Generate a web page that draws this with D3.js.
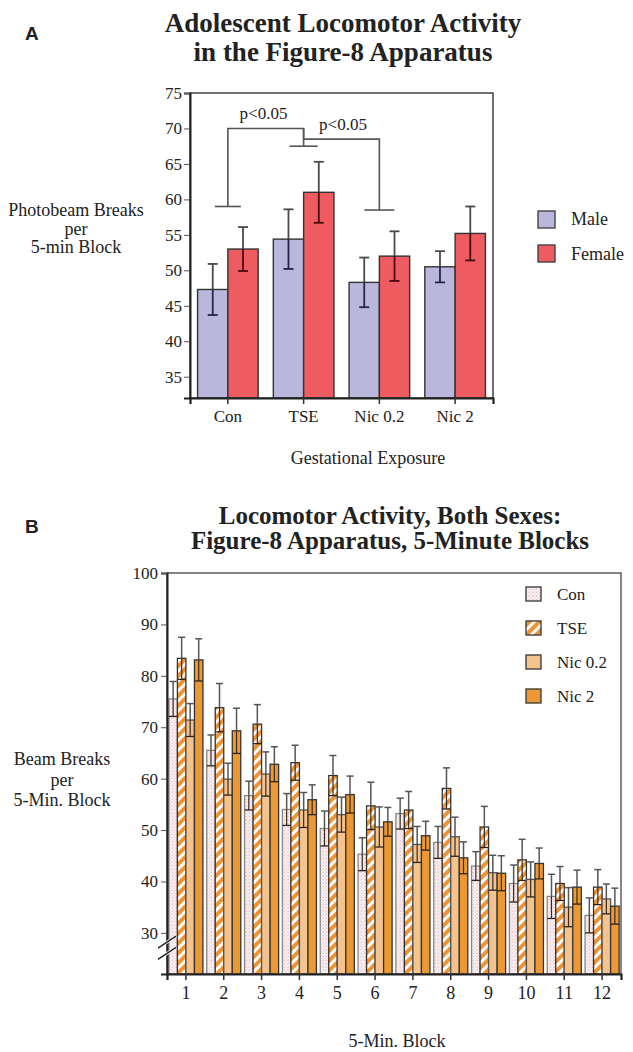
<!DOCTYPE html>
<html><head><meta charset="utf-8">
<script src="https://cdn.jsdelivr.net/npm/d3@7"></script>
<style>body{margin:0;background:#fff}svg{display:block}text{font-family:"Liberation Serif","Times New Roman",serif;fill:#222}</style>
</head><body>
<script>
// ---------- Panel A data ----------
const groupsA = ["Con", "TSE", "Nic 0.2", "Nic 2"];
const sexes = ["Male", "Female"];
const maleMean = [47.3, 54.4, 48.3, 50.5];
const maleSE = [3.6, 4.2, 3.5, 2.2];
const femaleMean = [53.0, 61.0, 52.0, 55.2];
const femaleSE = [3.1, 4.3, 3.5, 3.8];
const yTicksA = [35, 40, 45, 50, 55, 60, 65, 70, 75];
// significance brackets
const bracketFrom = ["Con", "TSE"];
const bracketTo = ["TSE", "Nic 0.2"];
const bracketTop = [70, 68.5];
const bracketLeftFoot = [59, 70];
const bracketRightFoot = [67.5, 58.5];
const bracketLabel = ["p<0.05", "p<0.05"];
const bracketLabelX = [0.47, 0.52];
const bracketLabelY = [71.4, 69.8];

// ---------- Panel B data ----------
const blocks = ["1","2","3","4","5","6","7","8","9","10","11","12"];
const groupsB = ["Con", "TSE", "Nic 0.2", "Nic 2"];
const conMean = [75.5, 65.5, 56.7, 54.0, 50.3, 45.3, 53.2, 47.6, 43.0, 39.6, 37.1, 33.4];
const conSE   = [3.4, 3.0, 2.8, 3.1, 3.4, 3.2, 3.0, 3.1, 2.8, 3.6, 4.3, 3.4];
const tseMean = [83.4, 73.8, 70.6, 63.1, 60.6, 54.7, 53.9, 58.1, 50.6, 44.2, 39.6, 38.9];
const tseSE   = [4.1, 4.7, 3.8, 3.4, 3.9, 4.6, 3.6, 4.0, 4.0, 4.0, 3.3, 3.4];
const nic02Mean = [71.4, 59.9, 60.9, 53.9, 53.0, 50.6, 47.2, 48.7, 41.7, 40.4, 35.0, 36.6];
const nic02SE   = [3.2, 3.1, 4.3, 3.4, 3.4, 3.9, 3.5, 3.8, 3.4, 3.4, 3.8, 2.9];
const nic2Mean = [83.1, 69.3, 62.8, 55.9, 56.9, 51.6, 48.9, 44.6, 41.6, 43.5, 38.9, 35.2];
const nic2SE   = [4.1, 4.4, 3.4, 2.9, 3.6, 2.8, 2.8, 3.1, 3.4, 3.0, 3.3, 3.5];
const yTicksB = [30, 40, 50, 60, 70, 80, 90, 100];

const W = 633, H = 1052;
const svg = d3.select("body").append("svg").attr("width", W).attr("height", H);
const defs = svg.append("defs");

// patterns
const stripe = defs.append("pattern").attr("id", "stripes").attr("patternUnits", "userSpaceOnUse")
  .attr("width", 7).attr("height", 7).attr("patternTransform", "rotate(45)");
stripe.append("rect").attr("width", 7).attr("height", 7).attr("fill", "#fff");
stripe.append("rect").attr("width", 4).attr("height", 7).attr("fill", "#ee9434");
const dots = defs.append("pattern").attr("id", "dots").attr("patternUnits", "userSpaceOnUse")
  .attr("width", 3.5).attr("height", 3.5);
dots.append("rect").attr("width", 3.5).attr("height", 3.5).attr("fill", "#fbf5f5");
dots.append("circle").attr("cx", 1).attr("cy", 1).attr("r", 0.65).attr("fill", "#d88d9b");
dots.append("circle").attr("cx", 2.75).attr("cy", 2.75).attr("r", 0.55).attr("fill", "#e4b2bb");

// ---------- Panel A ----------
const A = {l: 190, r: 493, t: 93, b: 398};
const yA = d3.scaleLinear().domain([32, 75]).range([A.b, A.t]);
const x0A = d3.scaleBand().domain(groupsA).range([A.l, A.r]).paddingInner(0.2).paddingOuter(0.1);
const x1A = d3.scaleBand().domain(sexes).range([0, x0A.bandwidth()]);
const colA = {Male: "#b9b8dc", Female: "#ee5b60"};
const darkA = {Male: "#25254a", Female: "#4a0a0e"};

svg.append("text").attr("x", 25).attr("y", 40).style("font-family", "'Liberation Sans',Arial,sans-serif")
  .style("font-weight", "bold").style("font-size", "19px").text("A");
const titleA = svg.append("text").attr("text-anchor", "middle").style("font-weight", "bold").style("font-size", "27px");
titleA.append("tspan").attr("x", 343).attr("y", 32).text("Adolescent Locomotor Activity");
titleA.append("tspan").attr("x", 343).attr("y", 61).text("in the Figure-8 Apparatus");

const gA = svg.append("g");
const dataA = [];
groupsA.forEach((g, i) => {
  dataA.push({g, s: "Male", m: maleMean[i], se: maleSE[i]});
  dataA.push({g, s: "Female", m: femaleMean[i], se: femaleSE[i]});
});
const barsA = gA.selectAll("g.bar").data(dataA).join("g");
barsA.append("rect")
  .attr("x", d => x0A(d.g) + x1A(d.s)).attr("width", x1A.bandwidth())
  .attr("y", d => yA(d.m)).attr("height", d => A.b - yA(d.m))
  .attr("fill", d => colA[d.s]).attr("stroke", "#333").attr("stroke-width", 1.4);
barsA.each(function(d) {
  const g = d3.select(this);
  const cx = x0A(d.g) + x1A(d.s) + x1A.bandwidth() / 2;
  g.append("line").attr("x1", cx).attr("x2", cx).attr("y1", yA(d.m)).attr("y2", yA(d.m + d.se)).attr("stroke", "#4a4a4a").attr("stroke-width", 1.8);
  g.append("line").attr("x1", cx - 5).attr("x2", cx + 5).attr("y1", yA(d.m + d.se)).attr("y2", yA(d.m + d.se)).attr("stroke", "#4a4a4a").attr("stroke-width", 1.8);
  g.append("line").attr("x1", cx).attr("x2", cx).attr("y1", yA(d.m)).attr("y2", yA(d.m - d.se)).attr("stroke", darkA[d.s]).attr("stroke-width", 1.8);
  g.append("line").attr("x1", cx - 5).attr("x2", cx + 5).attr("y1", yA(d.m - d.se)).attr("y2", yA(d.m - d.se)).attr("stroke", darkA[d.s]).attr("stroke-width", 1.8);
});

gA.append("rect").attr("x", A.l).attr("y", A.t).attr("width", A.r - A.l).attr("height", A.b - A.t)
  .attr("fill", "none").attr("stroke", "#333").attr("stroke-width", 1.4);
const axLA = gA.append("g").attr("transform", `translate(${A.l},0)`)
  .call(d3.axisLeft(yA).tickValues(yTicksA).tickSize(6).tickPadding(2));
axLA.select(".domain").attr("stroke", "#222").attr("stroke-width", 2);
axLA.selectAll("text").style("font-size", "17px").style("font-family", "'Liberation Serif',serif").attr("fill", "#333");
axLA.selectAll(".tick line").attr("stroke", "#555");
const axBA = gA.append("g").attr("transform", `translate(0,${A.b})`)
  .call(d3.axisBottom(x0A).tickSize(6).tickPadding(6));
axBA.select(".domain").attr("stroke", "#222").attr("stroke-width", 2.2);
axBA.selectAll("text").style("font-size", "17px").style("font-family", "'Liberation Serif',serif").attr("fill", "#222");
axBA.selectAll(".tick line").attr("stroke", "#333").attr("stroke-width", 1.5);

// brackets
const bc = g => x0A(g) + x0A.bandwidth() / 2;
const brk = gA.append("g").attr("stroke", "#555").attr("stroke-width", 1.6).attr("fill", "none");
bracketFrom.forEach((f, i) => {
  const xl = bc(f), xr = bc(bracketTo[i]);
  brk.append("path").attr("d", `M${xl},${yA(bracketLeftFoot[i])}V${yA(bracketTop[i])}H${xr}V${yA(bracketRightFoot[i])}`);
  if (i === 0) {
    brk.append("line").attr("x1", xl - 13).attr("x2", xl + 13).attr("y1", yA(bracketLeftFoot[i])).attr("y2", yA(bracketLeftFoot[i]));
    brk.append("line").attr("x1", xr - 14).attr("x2", xr + 14).attr("y1", yA(bracketRightFoot[i])).attr("y2", yA(bracketRightFoot[i]));
  } else {
    brk.append("line").attr("x1", xr - 15).attr("x2", xr + 15).attr("y1", yA(bracketRightFoot[i])).attr("y2", yA(bracketRightFoot[i]));
  }
  gA.append("text").attr("text-anchor", "middle").style("font-size", "17px")
    .attr("x", xl + (xr - xl) * bracketLabelX[i]).attr("y", yA(bracketLabelY[i])).text(bracketLabel[i]);
});

// y label A
const ylA = svg.append("text").attr("text-anchor", "middle").style("font-size", "18px");
["Photobeam Breaks", "per", "5-min Block"].forEach((t, i) => ylA.append("tspan").attr("x", 76).attr("y", 216 + i * 18.5).text(t));
svg.append("text").attr("x", 368).attr("y", 464).attr("text-anchor", "middle").style("font-size", "18px").text("Gestational Exposure");

// legend A
sexes.forEach((s, i) => {
  svg.append("rect").attr("x", 538).attr("y", 211 + i * 34).attr("width", 17).attr("height", 17)
    .attr("fill", colA[s]).attr("stroke", "#444").attr("stroke-width", 1.4);
  svg.append("text").attr("x", 571).attr("y", 225 + i * 35).style("font-size", "18px").text(s);
});

// ---------- Panel B ----------
const B = {l: 167, r: 621, t: 573, b: 974};
const yB = d3.scaleLinear().domain([22, 100]).range([B.b, B.t]);
const x0B = d3.scaleBand().domain(blocks).range([B.l, B.r]).paddingInner(0.1).paddingOuter(0.05);
const x1B = d3.scaleBand().domain(groupsB).range([0, x0B.bandwidth()]);
const fillB = {"Con": "url(#dots)", "TSE": "url(#stripes)", "Nic 0.2": "#f5c48e", "Nic 2": "#ec9834"};
const strokeB = {"Con": "#888", "TSE": "#333", "Nic 0.2": "#555", "Nic 2": "#333"};
const meansB = [conMean, tseMean, nic02Mean, nic2Mean];
const seB = [conSE, tseSE, nic02SE, nic2SE];

svg.append("text").attr("x", 25).attr("y", 533).style("font-family", "'Liberation Sans',Arial,sans-serif")
  .style("font-weight", "bold").style("font-size", "19px").text("B");
const titleB = svg.append("text").attr("text-anchor", "middle").style("font-weight", "bold").style("font-size", "25px");
titleB.append("tspan").attr("x", 390).attr("y", 524).text("Locomotor Activity, Both Sexes:");
titleB.append("tspan").attr("x", 390).attr("y", 549).text("Figure-8 Apparatus, 5-Minute Blocks");

const gB = svg.append("g");
const dataB = [];
blocks.forEach((b, i) => groupsB.forEach((g, j) => dataB.push({b, g, m: meansB[j][i], se: seB[j][i]})));
const barsB = gB.selectAll("g.bb").data(dataB).join("g");
barsB.append("rect")
  .attr("x", d => x0B(d.b) + x1B(d.g)).attr("width", x1B.bandwidth())
  .attr("y", d => yB(d.m)).attr("height", d => B.b - yB(d.m))
  .attr("fill", d => fillB[d.g]).attr("stroke", d => strokeB[d.g]).attr("stroke-width", 1.3);
barsB.each(function(d) {
  const g = d3.select(this);
  const x = x0B(d.b) + x1B(d.g), w = x1B.bandwidth(), cx = x + w / 2;
  g.append("line").attr("x1", cx).attr("x2", cx).attr("y1", yB(d.m)).attr("y2", yB(d.m + d.se)).attr("stroke", "#555").attr("stroke-width", 1.5);
  g.append("line").attr("x1", cx - 3.5).attr("x2", cx + 3.5).attr("y1", yB(d.m + d.se)).attr("y2", yB(d.m + d.se)).attr("stroke", "#555").attr("stroke-width", 1.5);
  g.append("line").attr("x1", cx).attr("x2", cx).attr("y1", yB(d.m)).attr("y2", yB(d.m - d.se)).attr("stroke", "#3a2a1c").attr("stroke-width", 1.2);
  g.append("line").attr("x1", x).attr("x2", x + w).attr("y1", yB(d.m - d.se)).attr("y2", yB(d.m - d.se)).attr("stroke", "#2e2218").attr("stroke-width", 1.3);
});

gB.append("rect").attr("x", B.l).attr("y", B.t).attr("width", B.r - B.l).attr("height", B.b - B.t)
  .attr("fill", "none").attr("stroke", "#444").attr("stroke-width", 1.3);
const axLB = gB.append("g").attr("transform", `translate(${B.l},0)`)
  .call(d3.axisLeft(yB).tickValues(yTicksB).tickSize(6).tickPadding(3));
axLB.select(".domain").attr("stroke", "#222").attr("stroke-width", 2);
axLB.selectAll("text").style("font-size", "17px").style("font-family", "'Liberation Serif',serif").attr("fill", "#333");
axLB.selectAll(".tick line").attr("stroke", "#555");
const axBB = gB.append("g").attr("transform", `translate(0,${B.b})`)
  .call(d3.axisBottom(x0B).tickSize(6).tickPadding(6));
axBB.select(".domain").attr("stroke", "#222").attr("stroke-width", 2.2);
axBB.selectAll("text").style("font-size", "18px").style("font-family", "'Liberation Serif',serif").attr("fill", "#222");
axBB.selectAll(".tick line").attr("stroke", "#333").attr("stroke-width", 1.5);

// axis break
const brB = gB.append("g");
[28.2, 26].forEach(v => {
  brB.append("line").attr("x1", B.l - 9).attr("x2", B.l + 9).attr("y1", yB(v) + 6).attr("y2", yB(v) - 6)
    .attr("stroke", "#fff").attr("stroke-width", 3);
});
[28.2, 26].forEach(v => {
  brB.append("line").attr("x1", B.l - 9).attr("x2", B.l + 9).attr("y1", yB(v) + 6).attr("y2", yB(v) - 6)
    .attr("stroke", "#222").attr("stroke-width", 1.4);
});

// y label B
const ylB = svg.append("text").attr("text-anchor", "middle").style("font-size", "18px");
["Beam Breaks", "per", "5-Min. Block"].forEach((t, i) => ylB.append("tspan").attr("x", 62).attr("y", 765 + i * 20.5).text(t));
svg.append("text").attr("x", 397).attr("y", 1047).attr("text-anchor", "middle").style("font-size", "18px").text("5-Min. Block");

// legend B
groupsB.forEach((g, i) => {
  svg.append("rect").attr("x", 526).attr("y", 587 + i * 34).attr("width", 15).attr("height", 14)
    .attr("fill", fillB[g]).attr("stroke", "#333").attr("stroke-width", 1.3);
  svg.append("text").attr("x", 557).attr("y", 600 + i * 34).style("font-size", "17px").text(g);
});
</script>
</body></html>
